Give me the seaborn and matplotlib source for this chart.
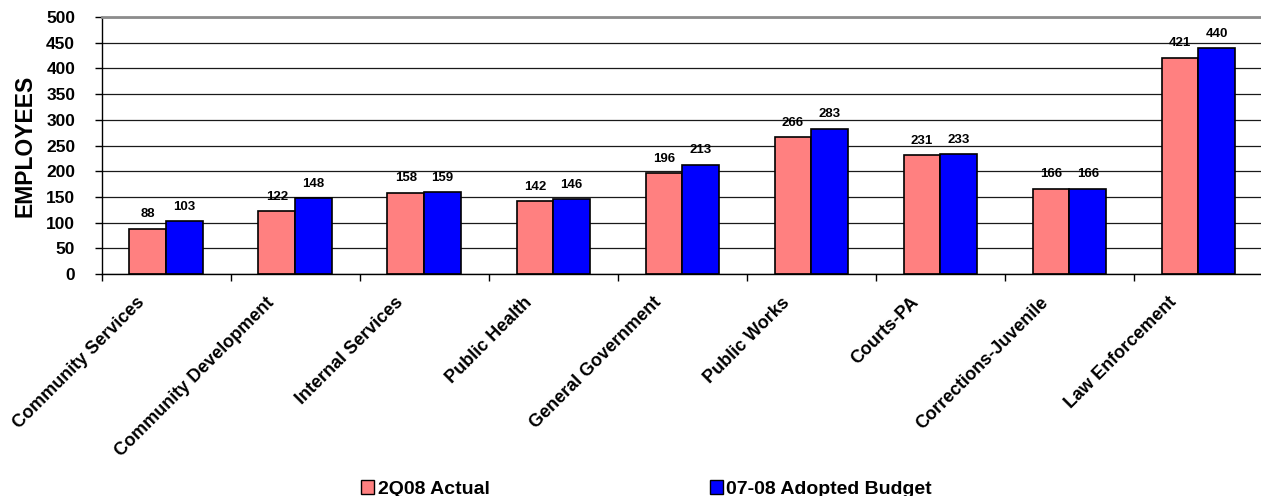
import matplotlib
matplotlib.use("Agg")
import matplotlib.pyplot as plt
import matplotlib.transforms as mtransforms
from matplotlib.patches import Patch
import seaborn as sns
import pandas as pd
import numpy as np

categories = ["Community Services", "Community Development", "Internal Services",
              "Public Health", "General Government", "Public Works", "Courts-PA",
              "Corrections-Juvenile", "Law Enforcement"]
actual_2q08 = [88, 122, 158, 142, 196, 266, 231, 166, 421]
budget_0708 = [103, 148, 159, 146, 213, 283, 233, 166, 440]
series_names = ["2Q08 Actual", "07-08 Adopted Budget"]
y_ticks = [0, 50, 100, 150, 200, 250, 300, 350, 400, 450, 500]

df = pd.DataFrame({
    "Department": categories * 2,
    "Employees": actual_2q08 + budget_0708,
    "Series": [series_names[0]] * len(categories) + [series_names[1]] * len(categories),
})

sns.set_theme(style="white")
plt.rcParams["font.family"] = ["Liberation Sans", "DejaVu Sans"]
plt.rcParams["font.weight"] = "bold"
plt.rcParams["text.color"] = "black"
plt.rcParams["axes.labelcolor"] = "black"
plt.rcParams["xtick.color"] = "black"
plt.rcParams["ytick.color"] = "black"

colors = ["#FF8080", "#0000FF"]

fig = plt.figure(figsize=(12.61, 4.96), dpi=100)
ax = fig.add_axes([0.0806, 0.4476, 0.921, 0.518])

sns.barplot(data=df, x="Department", y="Employees", hue="Series",
            order=categories, hue_order=series_names, palette=colors,
            width=0.57, dodge=True, saturation=1, edgecolor="black",
            linewidth=1.2, ax=ax, legend=False, errorbar=None)

for cont in ax.containers:
    ax.bar_label(cont, labels=[f"{int(round(v.get_height()))}" for v in cont],
                 padding=6, fontsize=9.5, fontweight="bold", color="black")

ax.set_ylim(0, 500)
ax.set_xlim(-0.5, len(categories) - 0.5)
ax.set_yticks(y_ticks)
ax.set_yticklabels([str(t) for t in y_ticks], fontsize=12.5, fontweight="bold")
ax.yaxis.grid(True, color="#1a1a1a", linewidth=0.9)
ax.set_axisbelow(True)
ax.tick_params(axis="y", which="major", direction="out", length=5, width=1,
               color="black", labelcolor="black", left=True, pad=14)

ax.set_xticks(np.arange(len(categories)))
ax.set_xticks(np.arange(len(categories) + 1) - 0.5, minor=True)
ax.tick_params(axis="x", which="major", length=0, pad=0, labelcolor="black")
ax.tick_params(axis="x", which="minor", direction="out", length=5, width=1,
               color="black", bottom=True)
offset = mtransforms.ScaledTranslation(-30 / 100, -20 / 100, fig.dpi_scale_trans)
ax.set_xticklabels(categories, rotation=45, ha="right", va="top",
                   rotation_mode="anchor", fontsize=13, fontweight="bold")
for lbl in ax.get_xticklabels():
    lbl.set_transform(lbl.get_transform() + offset)

ax.set_xlabel("")
ax.set_ylabel("EMPLOYEES", fontsize=16.5, fontweight="bold", labelpad=7, color="black")

ax.spines["right"].set_visible(False)
ax.spines["top"].set_visible(True)
ax.spines["top"].set_color("#8c8c8c")
ax.spines["top"].set_linewidth(2)
for side in ["left", "bottom"]:
    ax.spines[side].set_visible(True)
    ax.spines[side].set_color("black")
    ax.spines[side].set_linewidth(1)

handles = [Patch(facecolor=c, edgecolor="black", linewidth=1) for c in colors]
fig.legend(handles, series_names, loc="center left",
           bbox_to_anchor=(361 / 1261, 1 - 489 / 496),
           ncol=2, frameon=False, handlelength=0.67, handleheight=0.67,
           handletextpad=0.2, columnspacing=11.3, borderpad=0, borderaxespad=0,
           prop={"weight": "bold", "size": 14, "family": ["Liberation Sans"]})

fig.savefig("out.png", dpi=100)
